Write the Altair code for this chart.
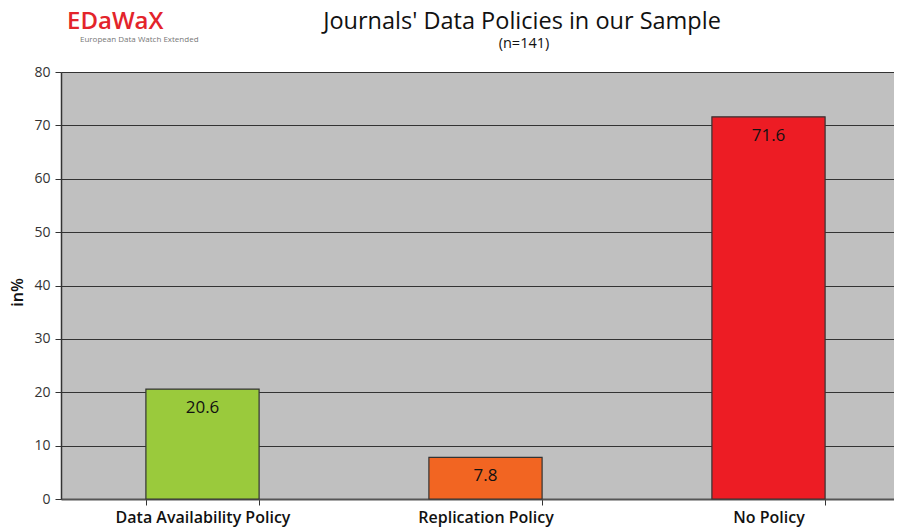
import altair as alt
import pandas as pd

categories = ["Data Availability Policy", "Replication Policy", "No Policy"]
values = [20.6, 7.8, 71.6]
colors = ["#9ACA3C", "#F26522", "#ED1C24"]
y_ticks = [0, 10, 20, 30, 40, 50, 60, 70, 80]

title_text = "Journals' Data Policies in our Sample"
subtitle_text = "(n=141)"
logo_text = "EDaWaX"
logo_sub_text = "European Data Watch Extended"

df = pd.DataFrame({"category": categories, "value": values, "label": [f"{v:.1f}" for v in values]})

FONT = "Open Sans"
W, H = 833, 427

x_enc = alt.X(
    "category:N",
    sort=categories,
    title=None,
    scale=alt.Scale(paddingInner=0.6, paddingOuter=0.3, range=[0, 849]),
    axis=alt.Axis(
        labelAngle=0, labelFontSize=16, labelFontWeight=600, labelColor="#111",
        labelFont=FONT, tickBand="extent", tickColor="#333", tickSize=6,
        domainColor="#555", domainWidth=2, labelPadding=4, grid=False,
    ),
)
y_enc = alt.Y(
    "value:Q",
    title="in%",
    scale=alt.Scale(domain=[0, 80], nice=False),
    axis=alt.Axis(
        values=y_ticks, grid=True, gridColor="#333", gridWidth=1.2, gridOpacity=1,
        tickColor="#333", tickSize=6, domainColor="#333", domainWidth=1.5,
        labelFont=FONT, labelFontSize=14, labelColor="#333", labelPadding=5,
        titleFont=FONT, titleFontSize=16, titleFontWeight=600, titleColor="#111",
        titleX=-36, titleY=220, titleAlign="center",
    ),
)

bars = alt.Chart(df).mark_bar(stroke="#333", strokeWidth=1.2).encode(
    x=x_enc,
    y=y_enc,
    color=alt.Color("category:N", sort=categories,
                    scale=alt.Scale(domain=categories, range=colors), legend=None),
)

labels = alt.Chart(df).mark_text(fontSize=17, font=FONT, color="#111", dy=19).encode(
    x=alt.X("category:N", sort=categories),
    y=alt.Y("value:Q"),
    text="label:N",
)


def deco(text, x, y, **kw):
    return alt.Chart(pd.DataFrame({"t": [text]})).mark_text(
        font=FONT, baseline="alphabetic", **kw
    ).encode(x=alt.value(x), y=alt.value(y), text="t:N")


logo = deco(logo_text, 6, -43, fontSize=24, fontWeight=600, color="#E3242B", align="left")
logo_sub = deco(logo_sub_text, 19, -30, fontSize=8, color="#777", align="left")
title = deco(title_text, 461, -43, fontSize=23.5, fontWeight=500, color="#111", align="center")
subtitle = deco(subtitle_text, 463, -24, fontSize=14.5, color="#111", align="center")

chart = alt.layer(bars, labels, logo, logo_sub, title, subtitle).properties(
    width=W,
    height=H,
    autosize=alt.AutoSizeParams(type="none"),
    padding={"left": 53, "top": 64, "right": 0, "bottom": 29},
    background="white",
).configure_view(fill="#C0C0C0", stroke=None)

chart.save("out.html", embed_options={"renderer": "svg", "actions": False})
